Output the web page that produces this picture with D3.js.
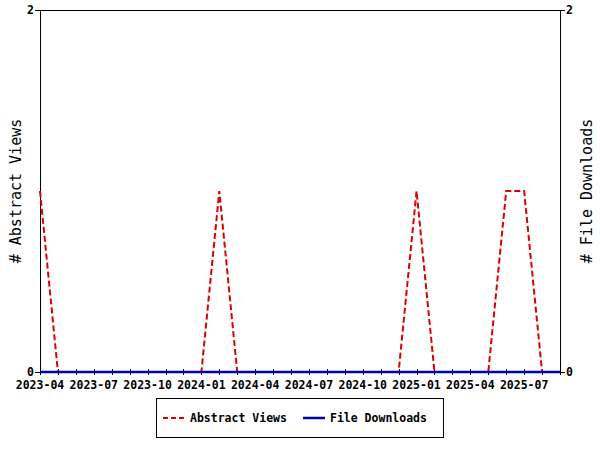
<!DOCTYPE html>
<html><head><meta charset="utf-8">
<script src="https://cdn.jsdelivr.net/npm/d3@7"></script>
<style>body{margin:0;background:#fff;} svg{display:block;}</style>
</head><body>
<svg id="c" width="600" height="450"></svg>
<script>
const months = ["2023-04","2023-05","2023-06","2023-07","2023-08","2023-09","2023-10","2023-11","2023-12",
  "2024-01","2024-02","2024-03","2024-04","2024-05","2024-06","2024-07","2024-08","2024-09","2024-10","2024-11","2024-12",
  "2025-01","2025-02","2025-03","2025-04","2025-05","2025-06","2025-07","2025-08","2025-09"];
const abstractViews = [1,0,0,0,0,0,0,0,0, 0,1,0,0,0,0,0,0,0,0,0,0, 1,0,0,0,0,1,1,0,0];
const fileDownloads = [0,0,0,0,0,0,0,0,0, 0,0,0,0,0,0,0,0,0,0,0,0, 0,0,0,0,0,0,0,0,0];
const tickLabels = ["2023-04","2023-07","2023-10","2024-01","2024-04","2024-07","2024-10","2025-01","2025-04","2025-07"];
const yTicks = [0,2];

const svg = d3.select("#c");
const L=40,R=560,T=10,B=372;
const FONT = "'DejaVu Sans Mono', monospace";
const x = d3.scalePoint().domain(months).range([L,R]);
const y = d3.scaleLinear().domain([0,2]).range([B,T]);

// frame
svg.append("line").attr("x1",L).attr("x2",R).attr("y1",T+0.5).attr("y2",T+0.5).attr("stroke","#000");
svg.append("line").attr("x1",L+0.5).attr("x2",L+0.5).attr("y1",T).attr("y2",B).attr("stroke","#000");
svg.append("line").attr("x1",R+0.5).attr("x2",R+0.5).attr("y1",T).attr("y2",B).attr("stroke","#000");

// x axis
const xa = svg.append("g").attr("transform",`translate(0,${B})`);
xa.append("line").attr("x1",L).attr("x2",R).attr("y1",0.5).attr("y2",0.5).attr("stroke","#000");
xa.selectAll("line.t").data(months).join("line").attr("class","t")
  .attr("x1",d=>Math.round(x(d))+0.5).attr("x2",d=>Math.round(x(d))+0.5)
  .attr("y1",-3).attr("y2",3).attr("stroke","#000");
xa.selectAll("text").data(tickLabels).join("text")
  .attr("x",d=>x(d)).attr("y",17).attr("text-anchor","middle")
  .attr("font-family",FONT).attr("font-weight","bold").attr("font-size","11.5px").text(d=>d);

// y axes
const yl = svg.append("g");
yl.selectAll("line").data(yTicks).join("line")
  .attr("x1",L-5).attr("x2",L).attr("y1",d=>Math.round(y(d))+0.5).attr("y2",d=>Math.round(y(d))+0.5).attr("stroke","#000");
yl.selectAll("text").data(yTicks).join("text")
  .attr("x",L-6).attr("y",d=>y(d)+4).attr("text-anchor","end")
  .attr("font-family",FONT).attr("font-weight","bold").attr("font-size","11.5px").text(d=>d);
const yr = svg.append("g");
yr.selectAll("line").data(yTicks).join("line")
  .attr("x1",R).attr("x2",R+5).attr("y1",d=>Math.round(y(d))+0.5).attr("y2",d=>Math.round(y(d))+0.5).attr("stroke","#000");
yr.selectAll("text").data(yTicks).join("text")
  .attr("x",R+6).attr("y",d=>y(d)+4).attr("text-anchor","start")
  .attr("font-family",FONT).attr("font-weight","bold").attr("font-size","11.5px").text(d=>d);

// axis titles
svg.append("text").attr("transform",`translate(21,191) rotate(-90)`).attr("text-anchor","middle")
  .attr("font-family",FONT).attr("font-size","15px").text("# Abstract Views");
svg.append("text").attr("transform",`translate(592,191) rotate(-90)`).attr("text-anchor","middle")
  .attr("font-family",FONT).attr("font-size","15px").text("# File Downloads");

// lines
const line = d3.line().x((d,i)=>x(months[i])).y(d=>y(d));
svg.append("path").datum(abstractViews).attr("d",line).attr("fill","none")
  .attr("stroke","#dd0000").attr("stroke-width",2).attr("stroke-dasharray","6,3");
svg.append("path").datum(fileDownloads).attr("d",line).attr("fill","none")
  .attr("stroke","#0000b4").attr("stroke-width",2.5);

// legend
const lg = svg.append("g");
lg.append("rect").attr("x",156.5).attr("y",398.5).attr("width",287).attr("height",39).attr("fill","#fff").attr("stroke","#000");
lg.append("line").attr("x1",163).attr("x2",184).attr("y1",418).attr("y2",418).attr("stroke","#dd0000").attr("stroke-width",2).attr("stroke-dasharray","5,3");
lg.append("text").attr("x",190).attr("y",422).attr("font-family",FONT).attr("font-weight","bold").attr("font-size","11.5px").text("Abstract Views");
lg.append("line").attr("x1",303).attr("x2",325).attr("y1",418).attr("y2",418).attr("stroke","#0000b4").attr("stroke-width",2.5);
lg.append("text").attr("x",330).attr("y",422).attr("font-family",FONT).attr("font-weight","bold").attr("font-size","11.5px").text("File Downloads");
</script>
</body></html>
